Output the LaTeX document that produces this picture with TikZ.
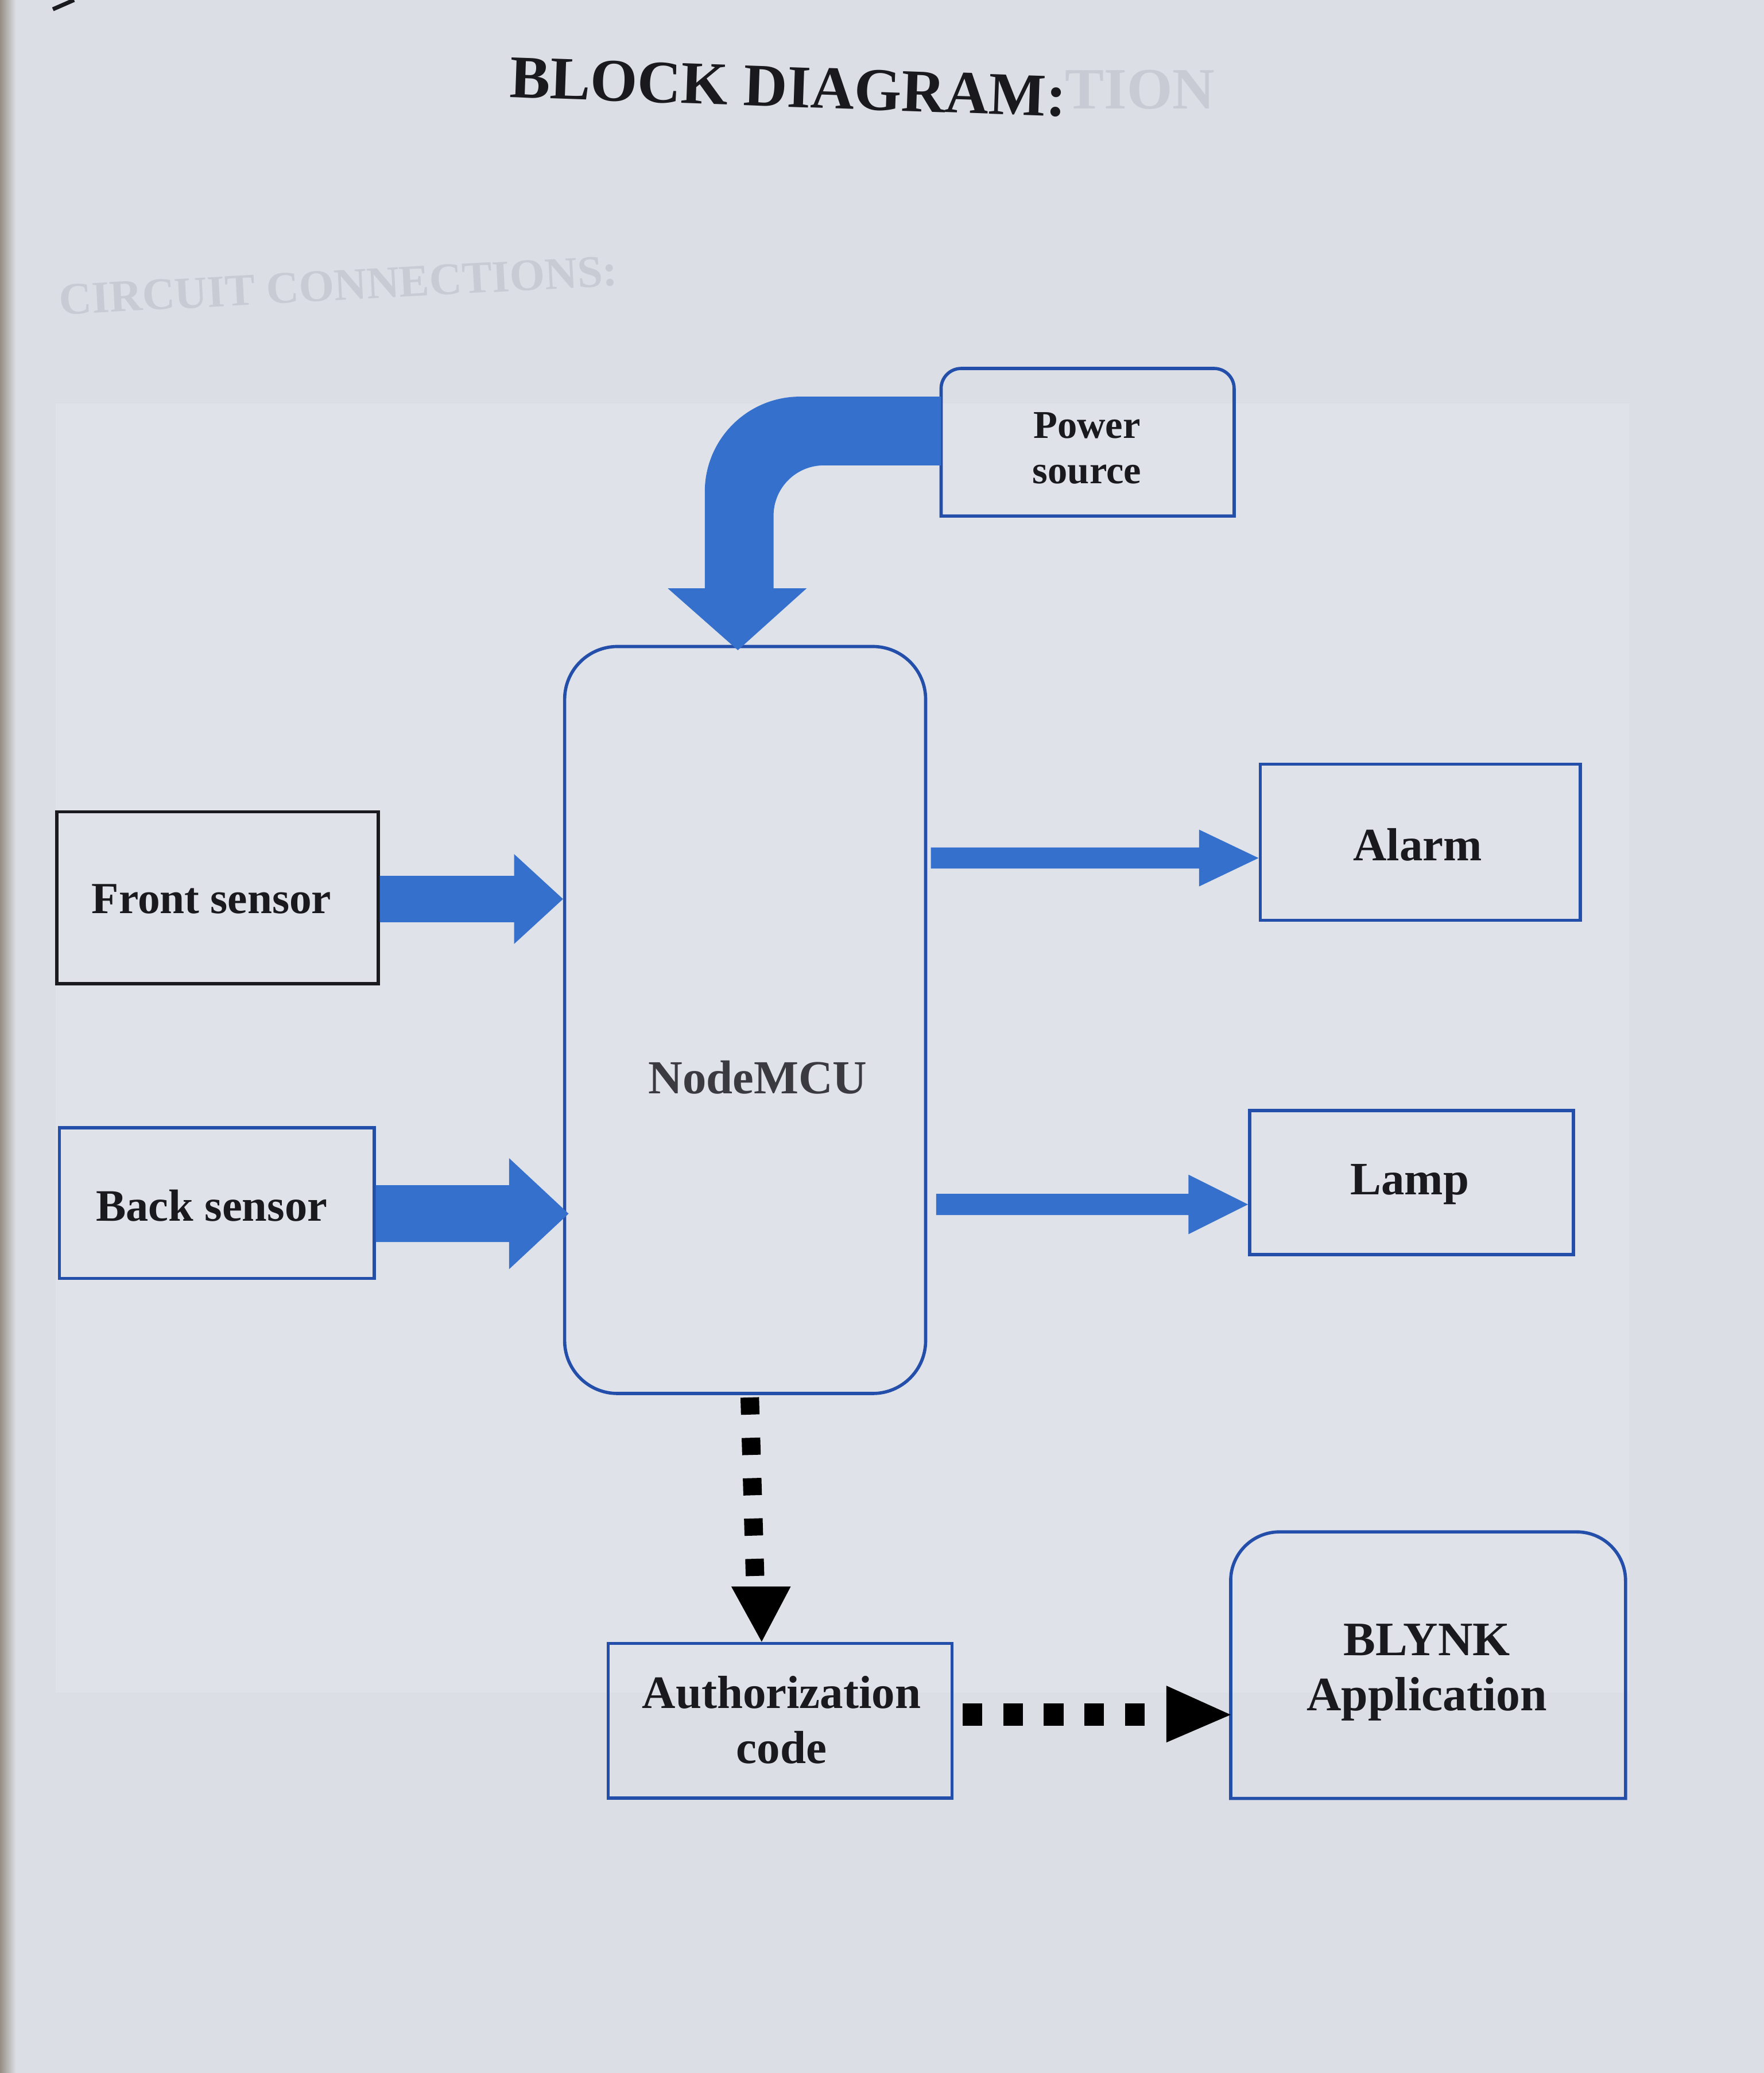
\documentclass[tikz,border=0pt]{standalone}
\usepackage{fontspec}
\setmainfont{Liberation Serif}
\usetikzlibrary{calc,fit}
\definecolor{pagebg}{RGB}{220,222,230}
\definecolor{innerbg}{RGB}{224,226,234}
\definecolor{edgecol}{RGB}{150,142,132}
\definecolor{ghost}{RGB}{200,203,212}
\definecolor{arrowblue}{RGB}{52,112,204}
\definecolor{boxblue}{RGB}{35,78,170}
\definecolor{inkblack}{RGB}{25,25,30}
\definecolor{inkgray}{RGB}{58,58,64}
\newcommand\hbarrow[5]{\fill[arrowblue] ($(#1)+(0,-#3)$) -- ($(#2)+(-#5,-#3)$) -- ($(#2)+(-#5,-#4)$) -- (#2) -- ($(#2)+(-#5,#4)$) -- ($(#2)+(-#5,#3)$) -- ($(#1)+(0,#3)$) -- cycle;}
\begin{document}
\begin{tikzpicture}[x=0.02303cm,y=-0.02303cm,
  lbl/.style={text=inkblack,font=\fontsize{23}{27.5}\selectfont\bfseries,align=center,inner sep=0pt},
  bluebox/.style={draw=boxblue,line width=1.6pt,inner sep=0pt},
  blackbox/.style={draw=inkblack,line width=1.6pt,inner sep=0pt},
  plainbox/.style={draw=none,inner sep=0pt},
  ghosttext/.style={text=ghost,font=\bfseries}]
\useasboundingbox (0,0) rectangle (1334,1568);
\fill[pagebg] (0,0) rectangle (1334,1568);
\fill[innerbg] (42,305) rectangle (1232,1280);
\shade[left color=edgecol,right color=pagebg] (0,0) rectangle (12,1568);
\draw[inkblack,line width=2pt] (40,7) -- (56,0);
% ghost show-through texts
\node[ghosttext,font=\fontsize{29}{30}\selectfont\bfseries] (g1) at (862,68) {TION};
\node[ghosttext,font=\fontsize{22.4}{24}\selectfont\bfseries,rotate=3] (g2) at (256,216) {CIRCUIT CONNECTIONS:};
% title
\node[text=inkblack,font=\fontsize{30}{32}\selectfont\bfseries,rotate=-2] (title) at (596,66) {BLOCK DIAGRAM:};
% boxes
\node[blackbox,fit={(43,614) (286,744)}] (fs) {};
\node[bluebox,fit={(45,853) (283,967)}] (bs) {};
\node[draw=boxblue,line width=1.6pt,inner sep=0pt,rounded corners=0.92cm,fit={(427,489) (700,1054)}] (mcu) {};
\node[bluebox,fit={(953,578) (1195,696)}] (al) {};
\node[bluebox,fit={(945,840) (1190,949)}] (lp) {};
\node[bluebox,fit={(460,1243) (720,1360)}] (ac) {};
\node[plainbox,fit={(712,279) (933,390)}] (ps) {};
\draw[boxblue,line width=1.6pt] (ps.south west) -- ([yshift=-0.35cm]ps.north west) arc (180:90:0.35cm) -- ([xshift=-0.35cm]ps.north east) arc (90:0:0.35cm) -- (ps.south east) -- cycle;
\node[plainbox,fit={(931,1159) (1229,1360)}] (bl) {};
\draw[boxblue,line width=1.6pt] (bl.south west) -- ([yshift=-0.85cm]bl.north west) arc (180:90:0.85cm) -- ([xshift=-0.85cm]bl.north east) arc (90:0:0.85cm) -- (bl.south east) -- cycle;
% labels
\node[lbl,font=\fontsize{22}{26}\selectfont\bfseries] (fsT) at (160,680) {Front sensor};
\node[lbl,font=\fontsize{22.3}{26}\selectfont\bfseries] (bsT) at (160,912) {Back sensor};
\node[lbl,text=inkgray,font=\fontsize{23.5}{28}\selectfont\bfseries] (mcuT) at (573,815) {NodeMCU};
\node[lbl] (alT) at (1072,639) {Alarm};
\node[lbl] (lpT) at (1066,896) {Lamp};
\node[lbl,font=\fontsize{19.5}{22.3}\selectfont\bfseries] (psT) at (822,339) {Power\\source};
\node[lbl] (acT) at (591,1301) {Authorization\\code};
\node[lbl,font=\fontsize{23.8}{27.5}\selectfont\bfseries] (blT) at (1079,1265) {BLYNK\\Application};
% block arrows
\coordinate (fsA) at (fs.east |- 0,680);
\coordinate (fsB) at (mcu.west |- 0,680);
\hbarrow{fsA}{fsB}{17.5}{34}{37}
\coordinate (bsA) at (bs.east |- 0,918);
\coordinate (bsB) at (430,918);
\hbarrow{bsA}{bsB}{21.5}{42}{45}
\coordinate (alA) at (704,649);
\coordinate (alB) at (al.west |- 0,649);
\hbarrow{alA}{alB}{8}{21.5}{45}
\coordinate (lpA) at (708,911);
\coordinate (lpB) at (lp.west |- 0,911);
\hbarrow{lpA}{lpB}{8}{22.5}{45}
% elbow arrow from power source
\coordinate (pwTip) at (mcu.north -| 558,0);
\fill[arrowblue] (ps.west |- 0,300) -- (605,300) arc (90:180:1.658cm) -- (533,445) -- (505,445) -- ($(pwTip)+(0,4)$) -- (610,445) -- (585,445) -- (585,390) arc (180:90:0.875cm) -- (ps.west |- 0,352) -- cycle;
% dashed arrows
\coordinate (d1A) at (567,1057);
\coordinate (d1B) at (571,1193);
\draw[black,line width=9.2pt,dash pattern=on 8.5pt off 11.5pt] (d1A) -- (d1B);
\fill[black] (553,1200) -- (598,1200) -- (ac.north -| 576,0) -- cycle;
\coordinate (d2A) at (728,1297);
\coordinate (d2B) at (866,1297);
\draw[black,line width=11pt,dash pattern=on 9.8pt off 10.3pt] (d2A) -- (d2B);
\fill[black] (882,1275) -- (882,1318) -- (bl.west |- 0,1297) -- cycle;
\end{tikzpicture}
\end{document}
